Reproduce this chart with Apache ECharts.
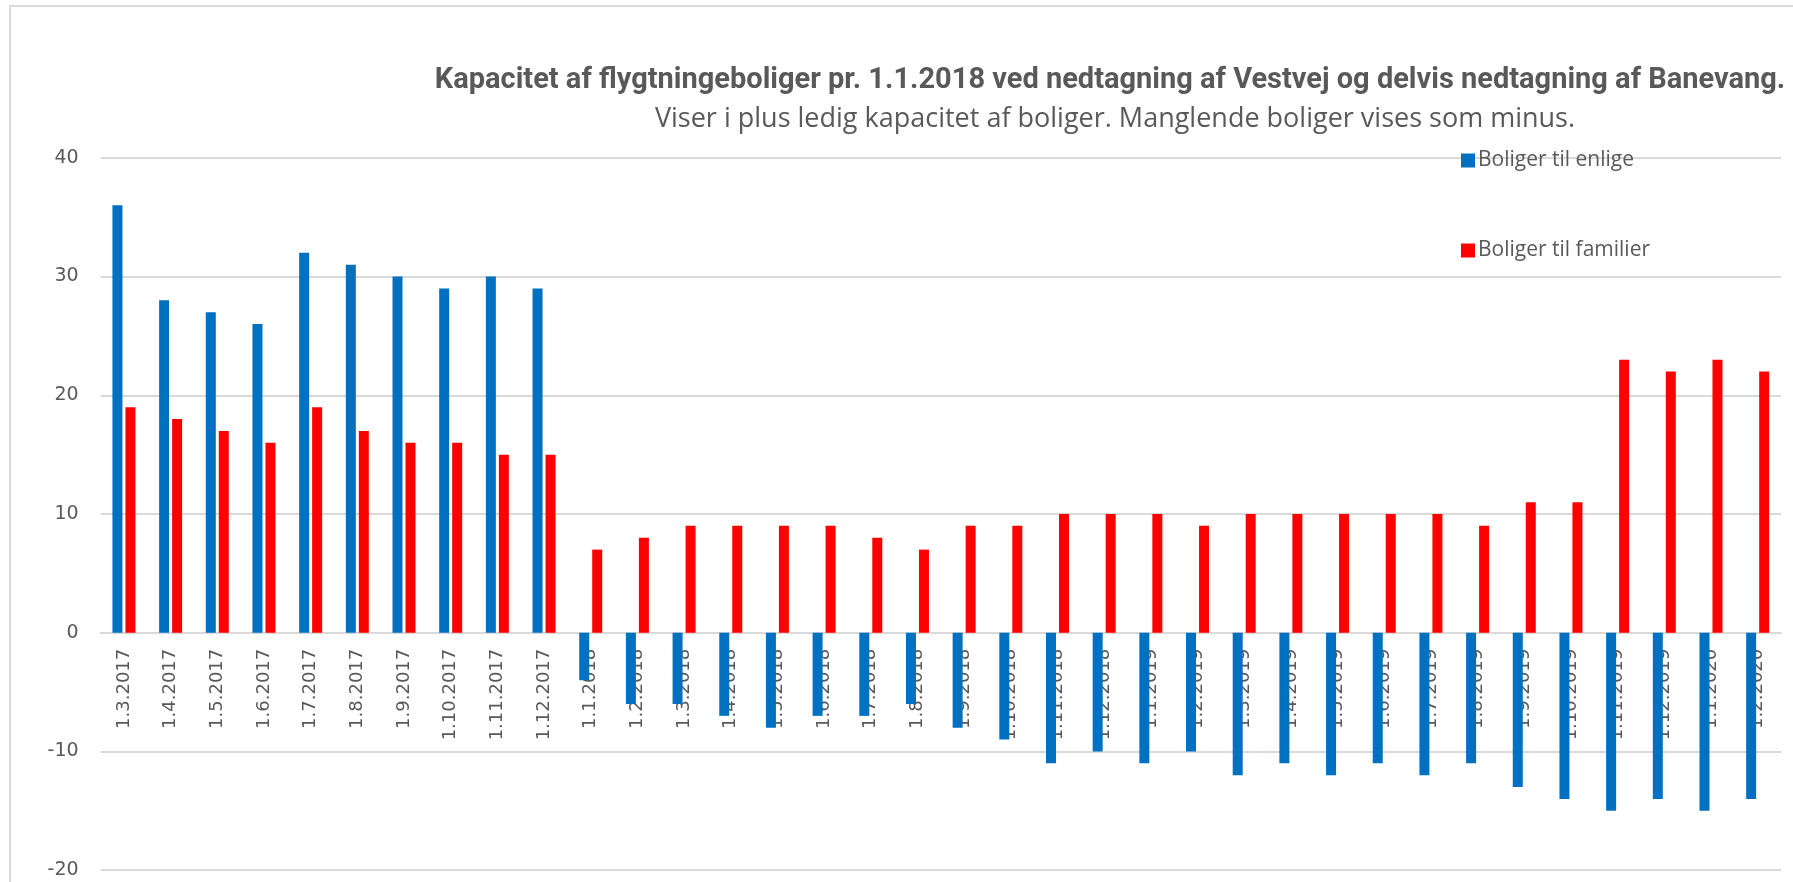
<!DOCTYPE html>
<html>
<head>
<meta charset="utf-8">
<script src="https://cdn.jsdelivr.net/npm/echarts@6/dist/echarts.min.js"></script>
<style>
  html, body { margin: 0; padding: 0; background: #fff; }
  #chart { width: 1793px; height: 882px; }
</style>
</head>
<body>
<div id="chart"></div>
<script>
// kategorier (datoer)
var categories = [
    '1.3.2017', '1.4.2017', '1.5.2017', '1.6.2017', '1.7.2017', '1.8.2017', '1.9.2017', '1.10.2017', '1.11.2017', '1.12.2017',
    '1.1.2018', '1.2.2018', '1.3.2018', '1.4.2018', '1.5.2018', '1.6.2018', '1.7.2018', '1.8.2018', '1.9.2018', '1.10.2018', '1.11.2018', '1.12.2018',
    '1.1.2019', '1.2.2019', '1.3.2019', '1.4.2019', '1.5.2019', '1.6.2019', '1.7.2019', '1.8.2019', '1.9.2019', '1.10.2019', '1.11.2019', '1.12.2019',
    '1.1.2020', '1.2.2020'
];
// boliger til enlige
var enlige = [
    36, 28, 27, 26, 32, 31, 30, 29, 30, 29,
    -4, -6, -6, -7, -8, -7, -7, -6, -8, -9, -11, -10,
    -11, -10, -12, -11, -12, -11, -12, -11, -13, -14, -15, -14,
    -15, -14
];
// boliger til familier
var familier = [
    19, 18, 17, 16, 19, 17, 16, 16, 15, 15,
    7, 8, 9, 9, 9, 9, 8, 7, 9, 9, 10, 10,
    10, 9, 10, 10, 10, 10, 10, 9, 11, 11, 23, 22,
    23, 22
];
var seriesNames = ['Boliger til enlige', 'Boliger til familier'];
var yTicks = { min: -20, max: 40, interval: 10 };

var titleText = 'Kapacitet af flygtningeboliger pr. 1.1.2018 ved nedtagning af Vestvej og delvis nedtagning af Banevang.';
var subText = 'Viser i plus ledig kapacitet af boliger. Manglende boliger vises som minus.';

var textColor = '#595959';
var lineColor = '#d9d9d9';

// plotområde
var gridTop = 157.8, gridBottom = 11.8;
var plotHeight = 882 - gridTop - gridBottom;
// x-aksen ligger ved 0: flyt den op med andelen under nul
var zeroOffset = -plotHeight * (0 - yTicks.min) / (yTicks.max - yTicks.min);

var myChart = echarts.init(document.getElementById('chart'));
var option = {
    backgroundColor: '#fff',
    animation: false,
    graphic: [{
        type: 'rect',
        shape: { x: 10, y: 6, width: 1800, height: 900 },
        style: { fill: 'none', stroke: lineColor, lineWidth: 2 },
        silent: true
    }],
    title: [{
        text: titleText,
        left: 1110,
        top: 81,
        padding: 0,
        textAlign: 'center',
        textVerticalAlign: 'middle',
        textStyle: { fontFamily: 'Roboto', fontWeight: 'bold', fontSize: 29, color: textColor }
    }, {
        text: subText,
        left: 1115,
        top: 119,
        padding: 0,
        textAlign: 'center',
        textVerticalAlign: 'middle',
        textStyle: { fontFamily: 'Open Sans', fontWeight: 'normal', fontSize: 27, color: textColor }
    }],
    legend: {
        orient: 'vertical',
        left: 1461,
        top: 150,
        padding: 0,
        itemWidth: 14,
        itemHeight: 14,
        itemGap: 69,
        icon: 'rect',
        data: seriesNames,
        textStyle: { fontFamily: 'Open Sans', fontSize: 21, color: textColor, padding: [0, 0, 0, -2] }
    },
    grid: {
        left: 100.6,
        right: 12,
        top: gridTop,
        bottom: gridBottom,
        containLabel: false,
        outerBoundsMode: 'none'
    },
    xAxis: {
        type: 'category',
        data: categories,
        position: 'bottom',
        offset: zeroOffset,
        axisLine: { onZero: false, lineStyle: { color: lineColor, width: 2 } },
        axisTick: { show: false },
        axisLabel: {
            rotate: 90,
            interval: 0,
            margin: 16,
            fontFamily: 'DejaVu Sans',
            fontSize: 18,
            color: textColor
        },
        z: 1
    },
    yAxis: {
        type: 'value',
        min: yTicks.min,
        max: yTicks.max,
        interval: yTicks.interval,
        axisLine: { show: false },
        axisTick: { show: false },
        splitLine: { lineStyle: { color: lineColor, width: 2 } },
        axisLabel: {
            margin: 22,
            fontFamily: 'DejaVu Sans',
            fontSize: 19,
            color: textColor
        }
    },
    series: [{
        name: seriesNames[0],
        type: 'bar',
        data: enlige,
        barWidth: 10,
        barGap: '30%',
        itemStyle: { color: '#0070C0' },
        z: 3
    }, {
        name: seriesNames[1],
        type: 'bar',
        data: familier,
        barWidth: 10,
        barGap: '30%',
        itemStyle: { color: '#FF0000' },
        z: 3
    }]
};
myChart.setOption(option);
</script>
</body>
</html>
